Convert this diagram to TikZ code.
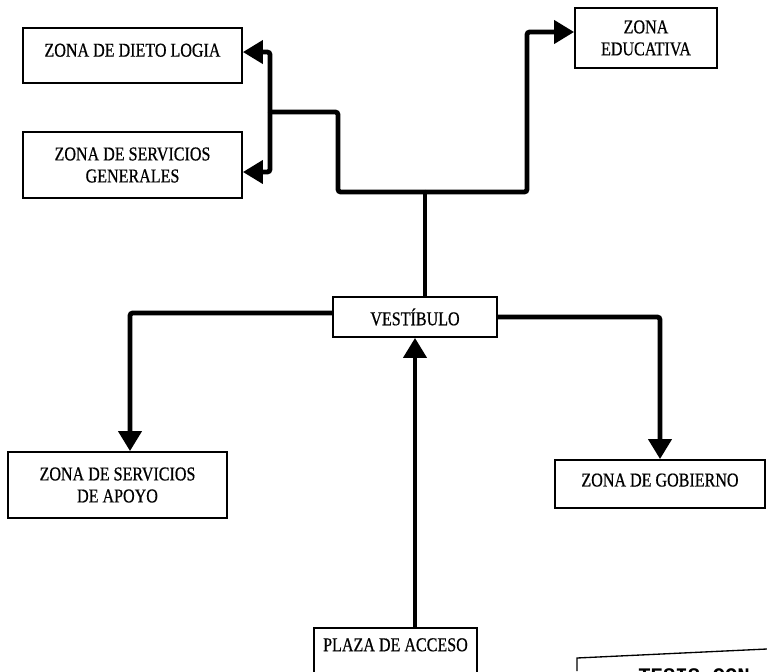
\documentclass[tikz,border=0pt]{standalone}
\usepackage{fontspec}
\setmainfont{Liberation Serif}[FakeStretch=0.82,FakeBold=0.6]
\newfontfamily\stampfont{Liberation Mono}
\usetikzlibrary{arrows.meta,calc}
\begin{document}
\begin{tikzpicture}[x=0.75pt,y=-0.75pt,
  zone/.style={draw=black,line width=1.3pt,fill=white,align=center,inner sep=2pt,
    font=\fontsize{14.7}{16.5}\selectfont},
  link/.style={line width=3.6pt,rounded corners=2pt},
  tip/.style={-{Triangle[length=15pt,width=17pt]}}]
\useasboundingbox (0,0) rectangle (767,671);
\fill[white] (0,0) rectangle (767,671);

% boxes
\node[zone,minimum width=164.25pt,minimum height=41.25pt,text depth=8pt] (diet) at (132.5,55.5) {ZONA DE DIETO LOGIA};
\node[zone,minimum width=164.25pt,minimum height=49.5pt] (sg) at (132.5,165) {ZONA DE SERVICIOS\\GENERALES};
\node[zone,minimum width=106.5pt,minimum height=45pt] (edu) at (646,38) {ZONA\\EDUCATIVA};
\node[zone,minimum width=123pt,minimum height=30pt] (vest) at (415,317) {VESTÍBULO};
\node[zone,minimum width=164.25pt,minimum height=49.5pt] (apoyo) at (117.5,485) {ZONA DE SERVICIOS\\DE APOYO};
\node[zone,minimum width=157.5pt,minimum height=36pt,text depth=6pt] (gob) at (660,484) {ZONA DE GOBIERNO};
\node[zone,minimum width=122.25pt,anchor=north,inner ysep=0pt,text height=17.5pt,text depth=30pt] (plaza) at (395.5,627) {PLAZA DE ACCESO};

% junctions
\coordinate (jc) at (425,192);
\coordinate (jl) at (338,112);
\coordinate (jb) at (270,112);
\coordinate (jr) at (527,192);

% connectors
\draw[link] (vest.north -| jc) -- (jc);
\draw[link] (jc) -| (jl) -- (jb);
\draw[link,tip] (jb) |- ([yshift=2.6pt]diet.east);
\draw[link,tip] (jb) |- ([yshift=-5.25pt]sg.east);
\draw[link,tip] (jc) -- (jr) |- ([yshift=4.5pt]edu.west);
\draw[link,tip] ([yshift=3pt]vest.west) -| ([xshift=9.375pt]apoyo.north);
\draw[link,tip] (vest.east) -| (gob.north);
\draw[link,tip] (plaza.north -| vest.south) -- (vest.south);

% partial stamp (scan)
\draw[line width=1pt] (577,671) -- (577,658) -- (767,649);
\node[font=\stampfont\bfseries\fontsize{15.5}{15.5}\selectfont,anchor=base west,inner sep=0pt] (stamp) at (638,682) {TESIS CON};
\end{tikzpicture}
\end{document}
